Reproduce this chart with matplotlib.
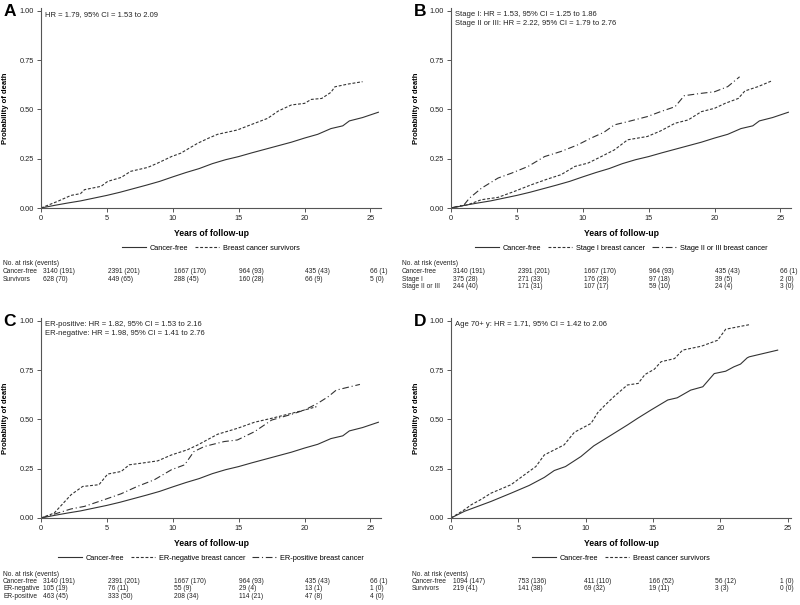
import matplotlib
matplotlib.use("Agg")
import matplotlib.pyplot as plt

plt.rcParams['font.family'] = ['Liberation Sans', 'DejaVu Sans']

# --- data ---
years_ticks = [0, 5, 10, 15, 20, 25]

cf_t = [0, 1, 2, 3, 4, 5, 6, 7, 8, 9, 10, 11, 12, 13, 14, 15, 16, 17, 18, 19, 20, 21, 22, 22.9, 23.4, 24.4, 25.6]
cf_y = [0, 0.013, 0.025, 0.036, 0.05, 0.064, 0.08, 0.098, 0.116, 0.135, 0.158, 0.18, 0.2, 0.225, 0.245, 0.261,
        0.28, 0.298, 0.316, 0.334, 0.355, 0.374, 0.403, 0.417, 0.442, 0.459, 0.486]

surv_t = [0, 1.27, 2.28, 3.0, 3.3, 4.56, 5.06, 6.08, 6.8, 8.1, 8.86, 9.9, 10.6, 11.9, 12.7, 13.4, 14.9, 15.9,
          17.2, 18.0, 19.0, 20.0, 20.5, 21.3, 22.0, 22.3, 23.3, 24.4]
surv_y = [0, 0.034, 0.064, 0.073, 0.093, 0.11, 0.135, 0.155, 0.186, 0.206, 0.228, 0.261, 0.278, 0.329, 0.354,
          0.374, 0.396, 0.422, 0.455, 0.492, 0.523, 0.531, 0.551, 0.556, 0.587, 0.615, 0.629, 0.641]

st1_t = [0, 1.3, 2.3, 3.57, 4.8, 6.1, 7.37, 8.35, 9.4, 10.4, 11.4, 12.4, 13.4, 14.9, 15.9, 17.0, 18.0, 19.0,
         20.0, 20.8, 21.8, 22.3, 23.3, 24.3]
st1_y = [0, 0.017, 0.042, 0.054, 0.084, 0.118, 0.148, 0.169, 0.211, 0.228, 0.261, 0.295, 0.346, 0.363, 0.391,
         0.43, 0.447, 0.489, 0.506, 0.531, 0.556, 0.594, 0.616, 0.644]

st23_t = [0, 1.0, 1.4, 2.3, 3.57, 4.6, 5.85, 7.1, 8.35, 9.6, 10.6, 11.6, 12.4, 13.4, 14.9, 15.9, 17.0, 17.7,
          19.0, 20.0, 21.0, 21.9]
st23_y = [0, 0.017, 0.05, 0.10, 0.152, 0.177, 0.211, 0.261, 0.287, 0.32, 0.354, 0.384, 0.422, 0.438, 0.464,
          0.489, 0.514, 0.57, 0.582, 0.59, 0.616, 0.666]

erneg_t = [0, 1.0, 1.4, 2.28, 3.16, 4.4, 5.06, 6.08, 6.7, 7.6, 8.86, 9.9, 11.1, 11.9, 13.4, 14.9, 16.2, 17.5,
           19.0, 20.0, 20.9]
erneg_y = [0, 0.025, 0.054, 0.118, 0.16, 0.169, 0.223, 0.236, 0.27, 0.278, 0.29, 0.32, 0.346, 0.371, 0.425,
           0.455, 0.486, 0.506, 0.531, 0.548, 0.565]

erpos_t = [0, 1.27, 2.28, 3.3, 4.8, 6.08, 7.3, 8.6, 9.9, 10.9, 11.6, 12.4, 13.9, 14.9, 16.2, 17.5, 19.0, 20.0,
           21.0, 21.8, 22.4, 24.2]
erpos_y = [0, 0.025, 0.046, 0.059, 0.093, 0.123, 0.16, 0.194, 0.245, 0.27, 0.337, 0.363, 0.388, 0.396, 0.438,
           0.497, 0.526, 0.548, 0.582, 0.616, 0.649, 0.678]

old_cf_t = [0, 1, 2.97, 4.46, 5.8, 6.93, 7.67, 8.5, 9.65, 10.6, 11.9, 13.1, 13.86, 14.85, 16.1, 16.8, 17.8,
            18.7, 19.55, 20.4, 21.0, 21.5, 22.0, 22.15, 24.26]
old_cf_y = [0, 0.034, 0.084, 0.126, 0.165, 0.206, 0.241, 0.261, 0.312, 0.366, 0.421, 0.472, 0.506, 0.548,
            0.599, 0.61, 0.649, 0.666, 0.733, 0.745, 0.767, 0.781, 0.813, 0.818, 0.852]

old_surv_t = [0, 1, 1.5, 2.2, 2.97, 4.46, 5.45, 6.3, 6.93, 8.4, 9.16, 10.4, 10.9, 11.4, 12.1, 13.1, 13.9, 14.4,
              15.1, 15.6, 16.6, 17.2, 18.6, 19.8, 20.4, 21.3, 22.15]
old_surv_y = [0, 0.042, 0.067, 0.093, 0.126, 0.169, 0.219, 0.261, 0.32, 0.371, 0.435, 0.48, 0.535, 0.57,
              0.616, 0.675, 0.683, 0.728, 0.755, 0.793, 0.809, 0.852, 0.872, 0.902, 0.958, 0.97, 0.981]

risk_A_labels = ['Cancer-free', 'Survivors']
risk_A = [['3140 (191)', '2391 (201)', '1667 (170)', '964 (93)', '435 (43)', '66 (1)'],
          ['628 (70)', '449 (65)', '288 (45)', '160 (28)', '66 (9)', '5 (0)']]
risk_B_labels = ['Cancer-free', 'Stage I', 'Stage II or III']
risk_B = [['3140 (191)', '2391 (201)', '1667 (170)', '964 (93)', '435 (43)', '66 (1)'],
          ['375 (28)', '271 (33)', '176 (28)', '97 (18)', '39 (5)', '2 (0)'],
          ['244 (40)', '171 (31)', '107 (17)', '59 (10)', '24 (4)', '3 (0)']]
risk_C_labels = ['Cancer-free', 'ER-negative', 'ER-positive']
risk_C = [['3140 (191)', '2391 (201)', '1667 (170)', '964 (93)', '435 (43)', '66 (1)'],
          ['105 (19)', '76 (11)', '55 (9)', '29 (4)', '13 (1)', '1 (0)'],
          ['463 (45)', '333 (50)', '208 (34)', '114 (21)', '47 (8)', '4 (0)']]
risk_D_labels = ['Cancer-free', 'Survivors']
risk_D = [['1094 (147)', '753 (136)', '411 (110)', '166 (52)', '56 (12)', '1 (0)'],
          ['219 (41)', '141 (38)', '69 (32)', '19 (11)', '3 (3)', '0 (0)']]

# --- styling ---
W, H = 800, 605
LC = '#333333'
TC = '#222222'
SOLID = '-'
DASH = (0, (2.6, 1.6))
DASHDOT = (0, (6, 2.5, 1, 2.5))
FS = 5.3
FS_TAB = 4.8

fig = plt.figure(figsize=(W / 100, H / 100), dpi=100)


def panel(left_px, bottom_px, xmax, letter, hr_lines, curves, risk_labels, risk_rows, label_x_px):
    ax = fig.add_axes([left_px / W, 1 - bottom_px / H, 340 / W, 200 / H])
    for t, y, ls, name in curves:
        ax.plot(t, y, color=LC, lw=0.8, linestyle=ls, label=name)
    ax.set_xlim(0, xmax)
    ax.set_ylim(0, 1.015)
    ax.set_xticks(years_ticks)
    ax.set_yticks([0, 0.25, 0.5, 0.75, 1.0])
    ax.set_yticklabels(['0.00', '0.25', '0.50', '0.75', '1.00'])
    for s in ['top', 'right']:
        ax.spines[s].set_visible(False)
    for s in ['left', 'bottom']:
        ax.spines[s].set_color('#555555')
        ax.spines[s].set_linewidth(0.8)
    ax.tick_params(length=3, width=0.7, color='#555555', labelsize=FS, pad=2, labelcolor=TC)
    ax.set_xlabel('Years of follow-up', fontsize=6.2, fontweight='bold', va='center')
    ax.xaxis.set_label_coords(0.5, -25 / 200)
    ax.set_ylabel('Probability of death', fontsize=5.5, fontweight='bold', va='center')
    ax.yaxis.set_label_coords(-35 / 340, 0.5)

    top_px = bottom_px - 200
    fig.text((left_px - 31) / W, 1 - (top_px + 3) / H, letter, fontsize=12.5, fontweight='bold',
             ha='center', va='center')
    for i, line in enumerate(hr_lines):
        fig.text((left_px + 4) / W, 1 - (top_px + 6.5 + 9.3 * i) / H, line, fontsize=5.5,
                 ha='left', va='center', color=TC)

    ax.legend(loc='center', bbox_to_anchor=(0.5, -40 / 200), ncol=len(curves), frameon=False,
              fontsize=FS, handlelength=3.3, handletextpad=0.5, columnspacing=0.9, borderpad=0)

    # number-at-risk table, columns every 65.4 px from the axis origin
    y0 = bottom_px + 56
    fig.text(label_x_px / W, 1 - y0 / H, 'No. at risk (events)', fontsize=FS_TAB, va='center', color=TC)
    for r, (lab, row) in enumerate(zip(risk_labels, risk_rows)):
        yy = 1 - (y0 + 7.5 * (r + 1)) / H
        fig.text(label_x_px / W, yy, lab, fontsize=FS_TAB, va='center', color=TC)
        for k, val in enumerate(row):
            fig.text((left_px + 2 + 65.4 * k) / W, yy, val, fontsize=FS_TAB, va='center', ha='left', color=TC)
    return ax


panel(41, 208, 25.8, 'A', ['HR = 1.79, 95% CI = 1.53 to 2.09'],
      [(cf_t, cf_y, SOLID, 'Cancer-free'), (surv_t, surv_y, DASH, 'Breast cancer survivors')],
      risk_A_labels, risk_A, 3)

panel(451, 208, 25.8, 'B', ['Stage I: HR = 1.53, 95% CI = 1.25 to 1.86',
                            'Stage II or III: HR = 2.22, 95% CI = 1.79 to 2.76'],
      [(cf_t, cf_y, SOLID, 'Cancer-free'), (st1_t, st1_y, DASH, 'Stage I breast cancer'),
       (st23_t, st23_y, DASHDOT, 'Stage II or III breast cancer')],
      risk_B_labels, risk_B, 402)

panel(41, 518, 25.8, 'C', ['ER-positive: HR = 1.82, 95% CI = 1.53 to 2.16',
                           'ER-negative: HR = 1.98, 95% CI = 1.41 to 2.76'],
      [(cf_t, cf_y, SOLID, 'Cancer-free'), (erneg_t, erneg_y, DASH, 'ER-negative breast cancer'),
       (erpos_t, erpos_y, DASHDOT, 'ER-positive breast cancer')],
      risk_C_labels, risk_C, 3)

panel(451, 518, 25.25, 'D', ['Age 70+ y: HR = 1.71, 95% CI = 1.42 to 2.06'],
      [(old_cf_t, old_cf_y, SOLID, 'Cancer-free'), (old_surv_t, old_surv_y, DASH, 'Breast cancer survivors')],
      risk_D_labels, risk_D, 412)

fig.savefig('out.png', dpi=100)
